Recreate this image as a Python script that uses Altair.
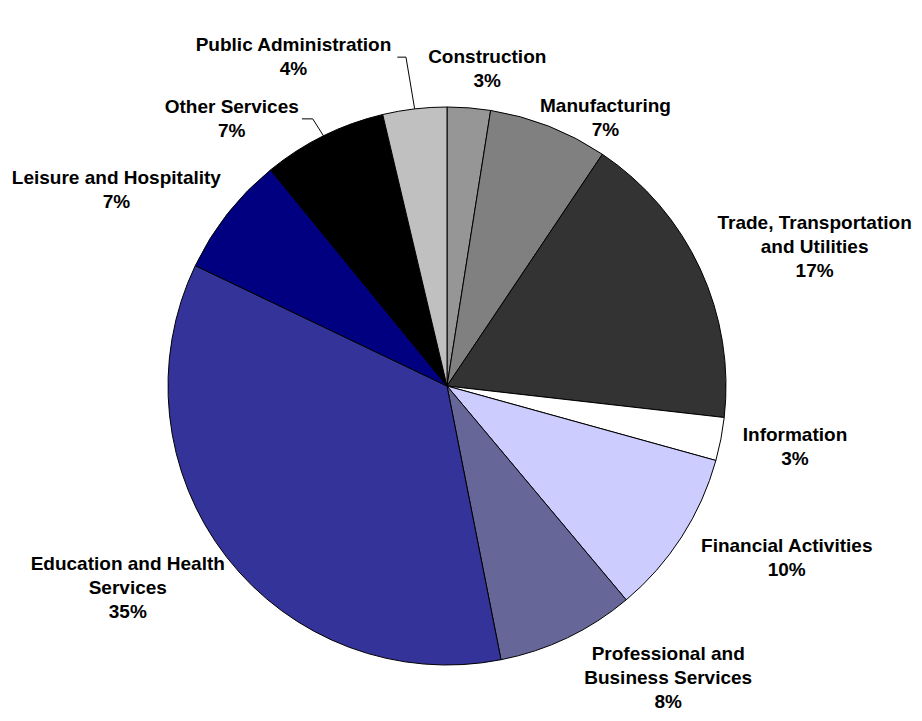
import json
import altair as alt
import pandas as pd

# sectors clockwise from 12 o'clock, share of employment (%)
sectors = ["Construction", "Manufacturing", "Trade, Transportation\nand Utilities",
           "Information", "Financial Activities", "Professional and\nBusiness Services",
           "Education and Health\nServices", "Leisure and Hospitality",
           "Other Services", "Public Administration"]
shares = [2.5, 6.9, 17.4, 2.5, 9.6, 8.0, 35.2, 7.0, 7.2, 3.7]
pct_labels = ["3%", "7%", "17%", "3%", "10%", "8%", "35%", "7%", "7%", "4%"]
colors = ["#969696", "#808080", "#333333", "#FFFFFF", "#CCCCFF",
          "#666699", "#333399", "#000080", "#000000", "#C0C0C0"]

#build the table the chart needs
df = pd.DataFrame({"sector": sectors, "share": shares, "pct": pct_labels})
df["order"] = range(len(df))
df["label"] = df["sector"] + "\n" + df["pct"]
df["nchar"] = [max(len(s) for s in t.split("\n")) for t in df["label"]]
df["nlines"] = [len(t.split("\n")) for t in df["label"]]

R = 279
CX = 439
CY = 378
LH = 24
FONT = "Liberation Sans"

#labels that were dragged off their default spot in the original (pixels)
nudge = {
    "Construction": (12, 0),
    "Manufacturing": (25, 28),
    "Trade, Transportation\nand Utilities": (-4, 0),
    "Professional and\nBusiness Services": (54, -6),
    "Other Services": (-51, 18),
    "Public Administration": (-106, -13),
}
leaders = ["Other Services", "Public Administration"]

def nudge_expr(k):
    s = "0"
    for name, v in nudge.items():
        s = f"datum.sector == {json.dumps(name)} ? {v[k]} : ({s})"
    return s

pie = alt.Chart(df).mark_arc(radius=R, stroke="black", strokeWidth=1).encode(
    theta=alt.Theta("share:Q", stack=True),
    order=alt.Order("order:Q"),
    x=alt.value(CX),
    y=alt.value(CY),
    color=alt.Color("sector:N", scale=alt.Scale(domain=sectors, range=colors), legend=None),
)

#mid angle of each slice; label box sits just outside the rim on that ray
lab = alt.Chart(df).transform_joinaggregate(
    total="sum(share)"
).transform_window(
    cum="sum(share)", sort=[alt.SortField("order")], frame=[None, 0]
).transform_calculate(
    mid="(datum.cum - datum.share / 2) / datum.total * 2 * PI",
).transform_calculate(
    ax=f"{CX} + {R} * sin(datum.mid)",
    ay=f"{CY} - {R} * cos(datum.mid)",
    tx=f"{CX} + {R + 15} * sin(datum.mid) + 5.5 * datum.nchar * sin(datum.mid) + ({nudge_expr(0)})",
    ty=f"{CY} - {R + 15} * cos(datum.mid) - {LH / 2} * datum.nlines * cos(datum.mid) + ({nudge_expr(1)})",
).transform_calculate(
    #first line sits at y, the rest hang below it
    ty0=f"datum.ty - (datum.nlines - 1) * {LH / 2}",
    lx="datum.tx + 4.8 * datum.nchar + 3",
).transform_calculate(
    ex="datum.lx + 0.5 * (datum.ax - datum.lx)",
)

txt = lab.mark_text(
    font=FONT, fontSize=19, fontWeight="bold", lineBreak="\n", lineHeight=LH,
    align="center", baseline="middle", color="black",
).encode(
    x=alt.X("tx:Q", scale=None),
    y=alt.Y("ty0:Q", scale=None),
    text="label:N",
)

#leader lines for the dragged labels
lead = lab.transform_filter(alt.FieldOneOfPredicate(field="sector", oneOf=leaders))
lead_a = lead.mark_rule(color="black", strokeWidth=1).encode(
    x=alt.X("ax:Q", scale=None), y=alt.Y("ay:Q", scale=None), x2="ex:Q", y2="ty:Q"
)
lead_b = lead.mark_rule(color="black", strokeWidth=1).encode(
    x=alt.X("ex:Q", scale=None), y=alt.Y("ty:Q", scale=None), x2="lx:Q", y2="ty:Q"
)

chart = alt.layer(pie, lead_a, lead_b, txt).properties(
    width=906, height=705, autosize="none", padding=0
).configure_view(stroke=None)

chart.save("out.html", embed_options={"renderer": "svg", "actions": False})
